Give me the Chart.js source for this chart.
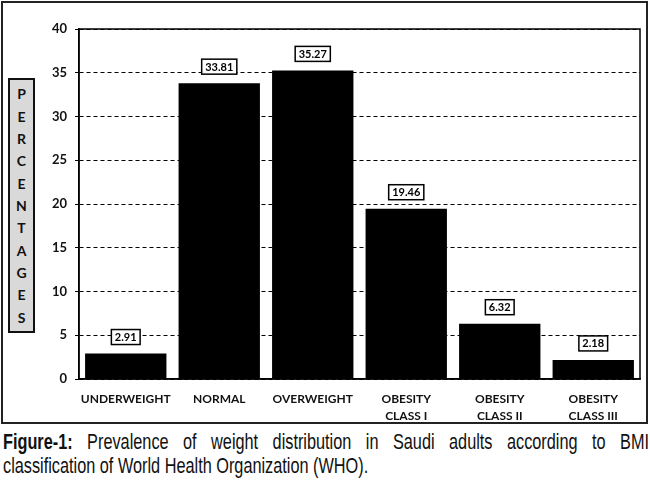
<!DOCTYPE html>
<html>
<head>
<meta charset="utf-8">
<script src="https://cdn.jsdelivr.net/npm/chart.js@4/dist/chart.umd.min.js"></script>
<style>
  body { margin: 0; background: #fff; width: 650px; height: 481px; overflow: hidden; position: relative; }
  #frame { position: absolute; left: 1px; top: 1px; width: 647px; height: 423px; border: 2px solid #222; box-sizing: border-box; }
  #plot { position: absolute; left: 0; top: 0; width: 650px; height: 424px; }
  #ytitle { position: absolute; left: 8px; top: 78px; width: 27px; height: 255px; box-sizing: border-box;
            border: 2px solid #111; background: #d9d9d9; font: bold 14px Lato, sans-serif; color: #111;
            display: flex; flex-direction: column; justify-content: space-evenly; align-items: center; }
  #caption { position: absolute; left: 3px; top: 430px; width: 873px; margin: 0;
             transform: scaleX(0.74); transform-origin: 0 0;
             font: 22px "Liberation Sans", Arial, sans-serif;
             line-height: 24px; color: #111; }
  #caption .l1 { display: block; text-align: justify; text-align-last: justify; }
  #caption b { font-weight: bold; }
</style>
</head>
<body>
<div id="frame"></div>
<div id="plot"><canvas id="chart"></canvas></div>
<div id="ytitle"></div>
<p id="caption"><span class="l1"><b>Figure-1:</b> Prevalence of weight distribution in Saudi adults according to BMI</span>classification of World Health Organization (WHO).</p>
<script>
const categories = [["UNDERWEIGHT"], ["NORMAL"], ["OVERWEIGHT"], ["OBESITY", "CLASS I"], ["OBESITY", "CLASS II"], ["OBESITY", "CLASS III"]];
const percentages = [2.91, 33.81, 35.27, 19.46, 6.32, 2.18];
const yTicks = [0, 5, 10, 15, 20, 25, 30, 35, 40];
const yTitle = "PERCENTAGES";

// stacked letters of the axis title
const titleBox = document.getElementById("ytitle");
yTitle.split("").forEach(ch => {
  const s = document.createElement("span");
  s.textContent = ch;
  titleBox.appendChild(s);
});

// boxed value labels + plot frame
const boxLabels = {
  id: "boxLabels",
  afterDatasetsDraw(chart) {
    const { ctx, chartArea } = chart;
    ctx.save();
    ctx.lineWidth = 1.5;
    ctx.strokeStyle = "#000";
    ctx.strokeRect(chartArea.left, chartArea.top, chartArea.right - chartArea.left, chartArea.bottom - chartArea.top);
    ctx.font = "bold 11px Lato, sans-serif";
    ctx.textAlign = "center";
    ctx.textBaseline = "middle";
    chart.getDatasetMeta(0).data.forEach((bar, i) => {
      const txt = percentages[i].toFixed(2);
      const w = ctx.measureText(txt).width + 7;
      const h = 15;
      const cx = bar.x;
      const cy = bar.y - 9 - h / 2;
      ctx.fillStyle = "#fff";
      ctx.fillRect(cx - w / 2, cy - h / 2, w, h);
      ctx.strokeRect(cx - w / 2, cy - h / 2, w, h);
      ctx.fillStyle = "#000";
      ctx.fillText(txt, cx, cy + 0.5);
    });
    ctx.restore();
  }
};

new Chart(document.getElementById("chart"), {
  type: "bar",
  data: {
    labels: categories,
    datasets: [{
      data: percentages,
      backgroundColor: "#000",
      borderWidth: 0,
      barPercentage: 0.87,
      categoryPercentage: 1
    }]
  },
  options: {
    responsive: true,
    maintainAspectRatio: false,
    animation: false,
    layout: { padding: { left: 39, right: 10, top: 29, bottom: 0 } },
    plugins: { legend: { display: false }, tooltip: { enabled: false } },
    scales: {
      x: {
        grid: { display: false },
        border: { display: true, color: "#000", width: 1.5 },
        ticks: { color: "#111", font: { family: "Lato", weight: "bold", size: 12, lineHeight: 1.45 }, padding: 3, maxRotation: 0, autoSkip: false },
        afterFit: s => { s.height = 45; }
      },
      y: {
        min: 0,
        max: 40,
        afterBuildTicks: s => { s.ticks = yTicks.map(v => ({ value: v })); },
        grid: { color: "#000", lineWidth: 1, tickLength: 4, tickColor: "#000", tickBorderDash: [4, 3] },
        border: { display: true, color: "#000", width: 1.5, dash: [4, 3] },
        ticks: { color: "#111", font: { family: "Lato", weight: "bold", size: 13 }, padding: 8 },
        afterFit: s => { s.width = 40; }
      }
    }
  },
  plugins: [boxLabels]
});
</script>
</body>
</html>
